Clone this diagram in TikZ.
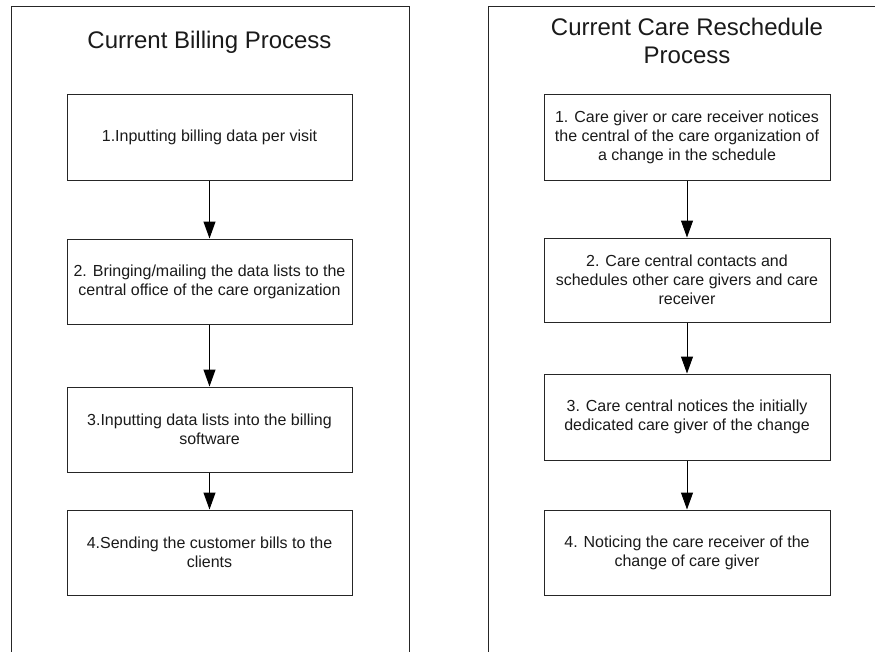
\documentclass[tikz,border=0pt]{standalone}
\usepackage{fontspec}
\setmainfont{Liberation Sans}
\usetikzlibrary{arrows.meta}
\definecolor{linec}{HTML}{262626}
\definecolor{textc}{HTML}{1A1A1A}
\tikzset{
  panel/.style={draw=linec, line width=1pt},
  stepbox/.style={draw=linec, line width=1pt, minimum width=285pt, minimum height=86pt,
    inner sep=0pt, align=center, text=textc,
    font=\fontsize{16pt}{19pt}\selectfont},
  ptitle/.style={align=center, text=textc, inner sep=0pt,
    font=\fontsize{24pt}{28pt}\selectfont},
  flow/.style={draw=black, line width=1pt, -{Triangle[length=17pt,width=12pt]}}
}
\begin{document}
\begin{tikzpicture}[x=1pt,y=-1pt]
\clip (0,0) rectangle (875,651);
\fill[white] (0,0) rectangle (875,651);
% panels
\draw[panel] (11,670) -- (11,6) -- (409,6) -- (409,670);
\draw[panel] (488,670) -- (488,6) -- (890,6);
% left
\node[ptitle] (t1) at (209.5,42) {Current Billing Process};
\node[stepbox, minimum height=86pt] (a1) at (209.5,137) {1.Inputting billing data per visit};
\node[stepbox, minimum height=85pt] (a2) at (209.5,281.5) {2. Bringing/mailing the data lists to the\\central office of the care organization};
\node[stepbox, minimum height=85pt] (a3) at (209.5,429.5) {3.Inputting data lists into the billing\\software};
\node[stepbox, minimum height=85pt] (a4) at (209.5,552.5) {4.Sending the customer bills to the\\clients};
\draw[flow] (a1) -- (a2);
\draw[flow] (a2) -- (a3);
\draw[flow] (a3) -- (a4);
% right
\node[ptitle] (t2) at (687,41) {Current Care Reschedule\\Process};
\node[stepbox, minimum width=286pt, minimum height=86pt] (b1) at (687,137) {1. Care giver or care receiver notices\\the central of the care organization of\\a change in the schedule};
\node[stepbox, minimum width=286pt, minimum height=84pt] (b2) at (687,280) {2. Care central contacts and\\schedules other care givers and care\\receiver};
\node[stepbox, minimum width=286pt, minimum height=86pt] (b3) at (687,417) {3. Care central notices the initially\\dedicated care giver of the change};
\node[stepbox, minimum width=286pt, minimum height=85pt] (b4) at (687,552.5) {4. Noticing the care receiver of the\\change of care giver};
\draw[flow] (b1) -- (b2);
\draw[flow] (b2) -- (b3);
\draw[flow] (b3) -- (b4);
\end{tikzpicture}
\end{document}
